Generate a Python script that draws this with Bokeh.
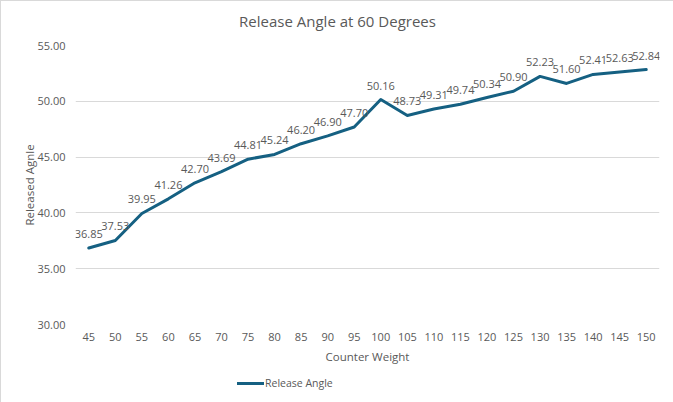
from bokeh.plotting import figure
from bokeh.layouts import column
from bokeh.models import (ColumnDataSource, Range1d, FixedTicker, PrintfTickFormatter,
                          LabelSet, Label, Legend, LegendItem)
from bokeh.core.properties import value
from bokeh.embed import file_html
from bokeh.resources import INLINE

# Counter weight settings and the measured release angle for each
counter_weight = [45, 50, 55, 60, 65, 70, 75, 80, 85, 90, 95, 100,
                  105, 110, 115, 120, 125, 130, 135, 140, 145, 150]
release_angle = [36.85, 37.53, 39.95, 41.26, 42.70, 43.69, 44.81, 45.24, 46.20, 46.90, 47.70, 50.16,
                 48.73, 49.31, 49.74, 50.34, 50.90, 52.23, 51.60, 52.41, 52.63, 52.84]
y_ticks = [30, 35, 40, 45, 50, 55]

FONT = "Open Sans"
TEXT = "#595959"
LINE = "#156082"
LINE_STYLE = dict(line_color=LINE, line_width=3, line_join="round", line_cap="round")

source = ColumnDataSource(dict(
    x=counter_weight,
    y=release_angle,
    label=["%.2f" % v for v in release_angle],
))


def strip(height):
    """A blank full-width figure used for the title and legend rows.
    Its frame is aligned with the main chart's frame by the column layout."""
    f = figure(width=673, height=height, output_backend="svg", toolbar_location=None,
               x_range=Range1d(0, 1), y_range=Range1d(0, 1),
               min_border=0, x_axis_location=None, y_axis_location=None)
    f.outline_line_color = None
    f.xgrid.grid_line_color = None
    f.ygrid.grid_line_color = None
    f.border_fill_color = "white"
    f.background_fill_color = "white"
    return f


# title row (x measured from the plot frame's left edge)
head = strip(34)
head.add_layout(Label(x=262, y=15, x_units="screen", y_units="screen",
                      text="Release Angle at 60 Degrees", text_align="center",
                      text_baseline="middle", text_font=FONT, text_font_size="15px",
                      text_color=TEXT))

# main chart
p = figure(width=673, height=336, output_backend="svg", toolbar_location=None,
           x_range=Range1d(42.5, 152.5), y_range=Range1d(30, 55),
           min_border_left=74, min_border_right=15, min_border_top=10, min_border_bottom=47)
p.outline_line_color = None
p.background_fill_color = "white"
p.border_fill_color = "white"

p.xaxis.ticker = FixedTicker(ticks=counter_weight)
p.yaxis.ticker = FixedTicker(ticks=y_ticks)
p.yaxis.formatter = PrintfTickFormatter(format="%.2f")
for ax in (p.xaxis[0], p.yaxis[0]):
    ax.axis_line_color = None
    ax.major_tick_line_color = None
    ax.minor_tick_line_color = None
    ax.major_tick_out = 0
    ax.major_tick_in = 0
    ax.major_label_text_font = FONT
    ax.major_label_text_font_size = "11px"
    ax.major_label_text_color = TEXT
    ax.axis_label_text_font = FONT
    ax.axis_label_text_font_size = "11.5px"
    ax.axis_label_text_color = TEXT
    ax.axis_label_text_font_style = "normal"
p.xaxis.axis_label = "Counter Weight"
p.yaxis.axis_label = "Released Agnle"
p.xaxis.major_label_standoff = 8
p.xaxis.axis_label_standoff = 5
p.yaxis.major_label_standoff = 10
p.yaxis.axis_label_standoff = -3

p.xgrid.grid_line_color = None
p.ygrid.grid_line_color = "#d9d9d9"
p.ygrid.grid_line_width = 1

line = p.line("x", "y", source=source, **LINE_STYLE)

labels = LabelSet(x="x", y="y", text="label", source=source,
                  text_align="center", text_baseline="bottom", y_offset=10,
                  text_font=value(FONT), text_font_size=value("11px"),
                  text_color=value(TEXT))
p.add_layout(labels)

# legend row; the swatch renderer shares the series data but lies outside this strip's view
leg = strip(32)
swatch = leg.line("x", "y", source=source, **LINE_STYLE)
legend = Legend(items=[LegendItem(label="Release Angle", renderers=[swatch])],
                location=(162, 13), orientation="horizontal",
                padding=0, margin=0, spacing=0, label_standoff=1,
                glyph_width=27, glyph_height=14, label_height=14,
                label_text_font=FONT, label_text_font_size="10.5px",
                label_text_color=TEXT, border_line_color=None,
                background_fill_alpha=0)
leg.add_layout(legend)

page = column(head, p, leg, spacing=0,
              styles={"border": "1px solid #d9d9d9", "box-sizing": "border-box"})

open("out.html", "w").write(file_html(page, INLINE))
